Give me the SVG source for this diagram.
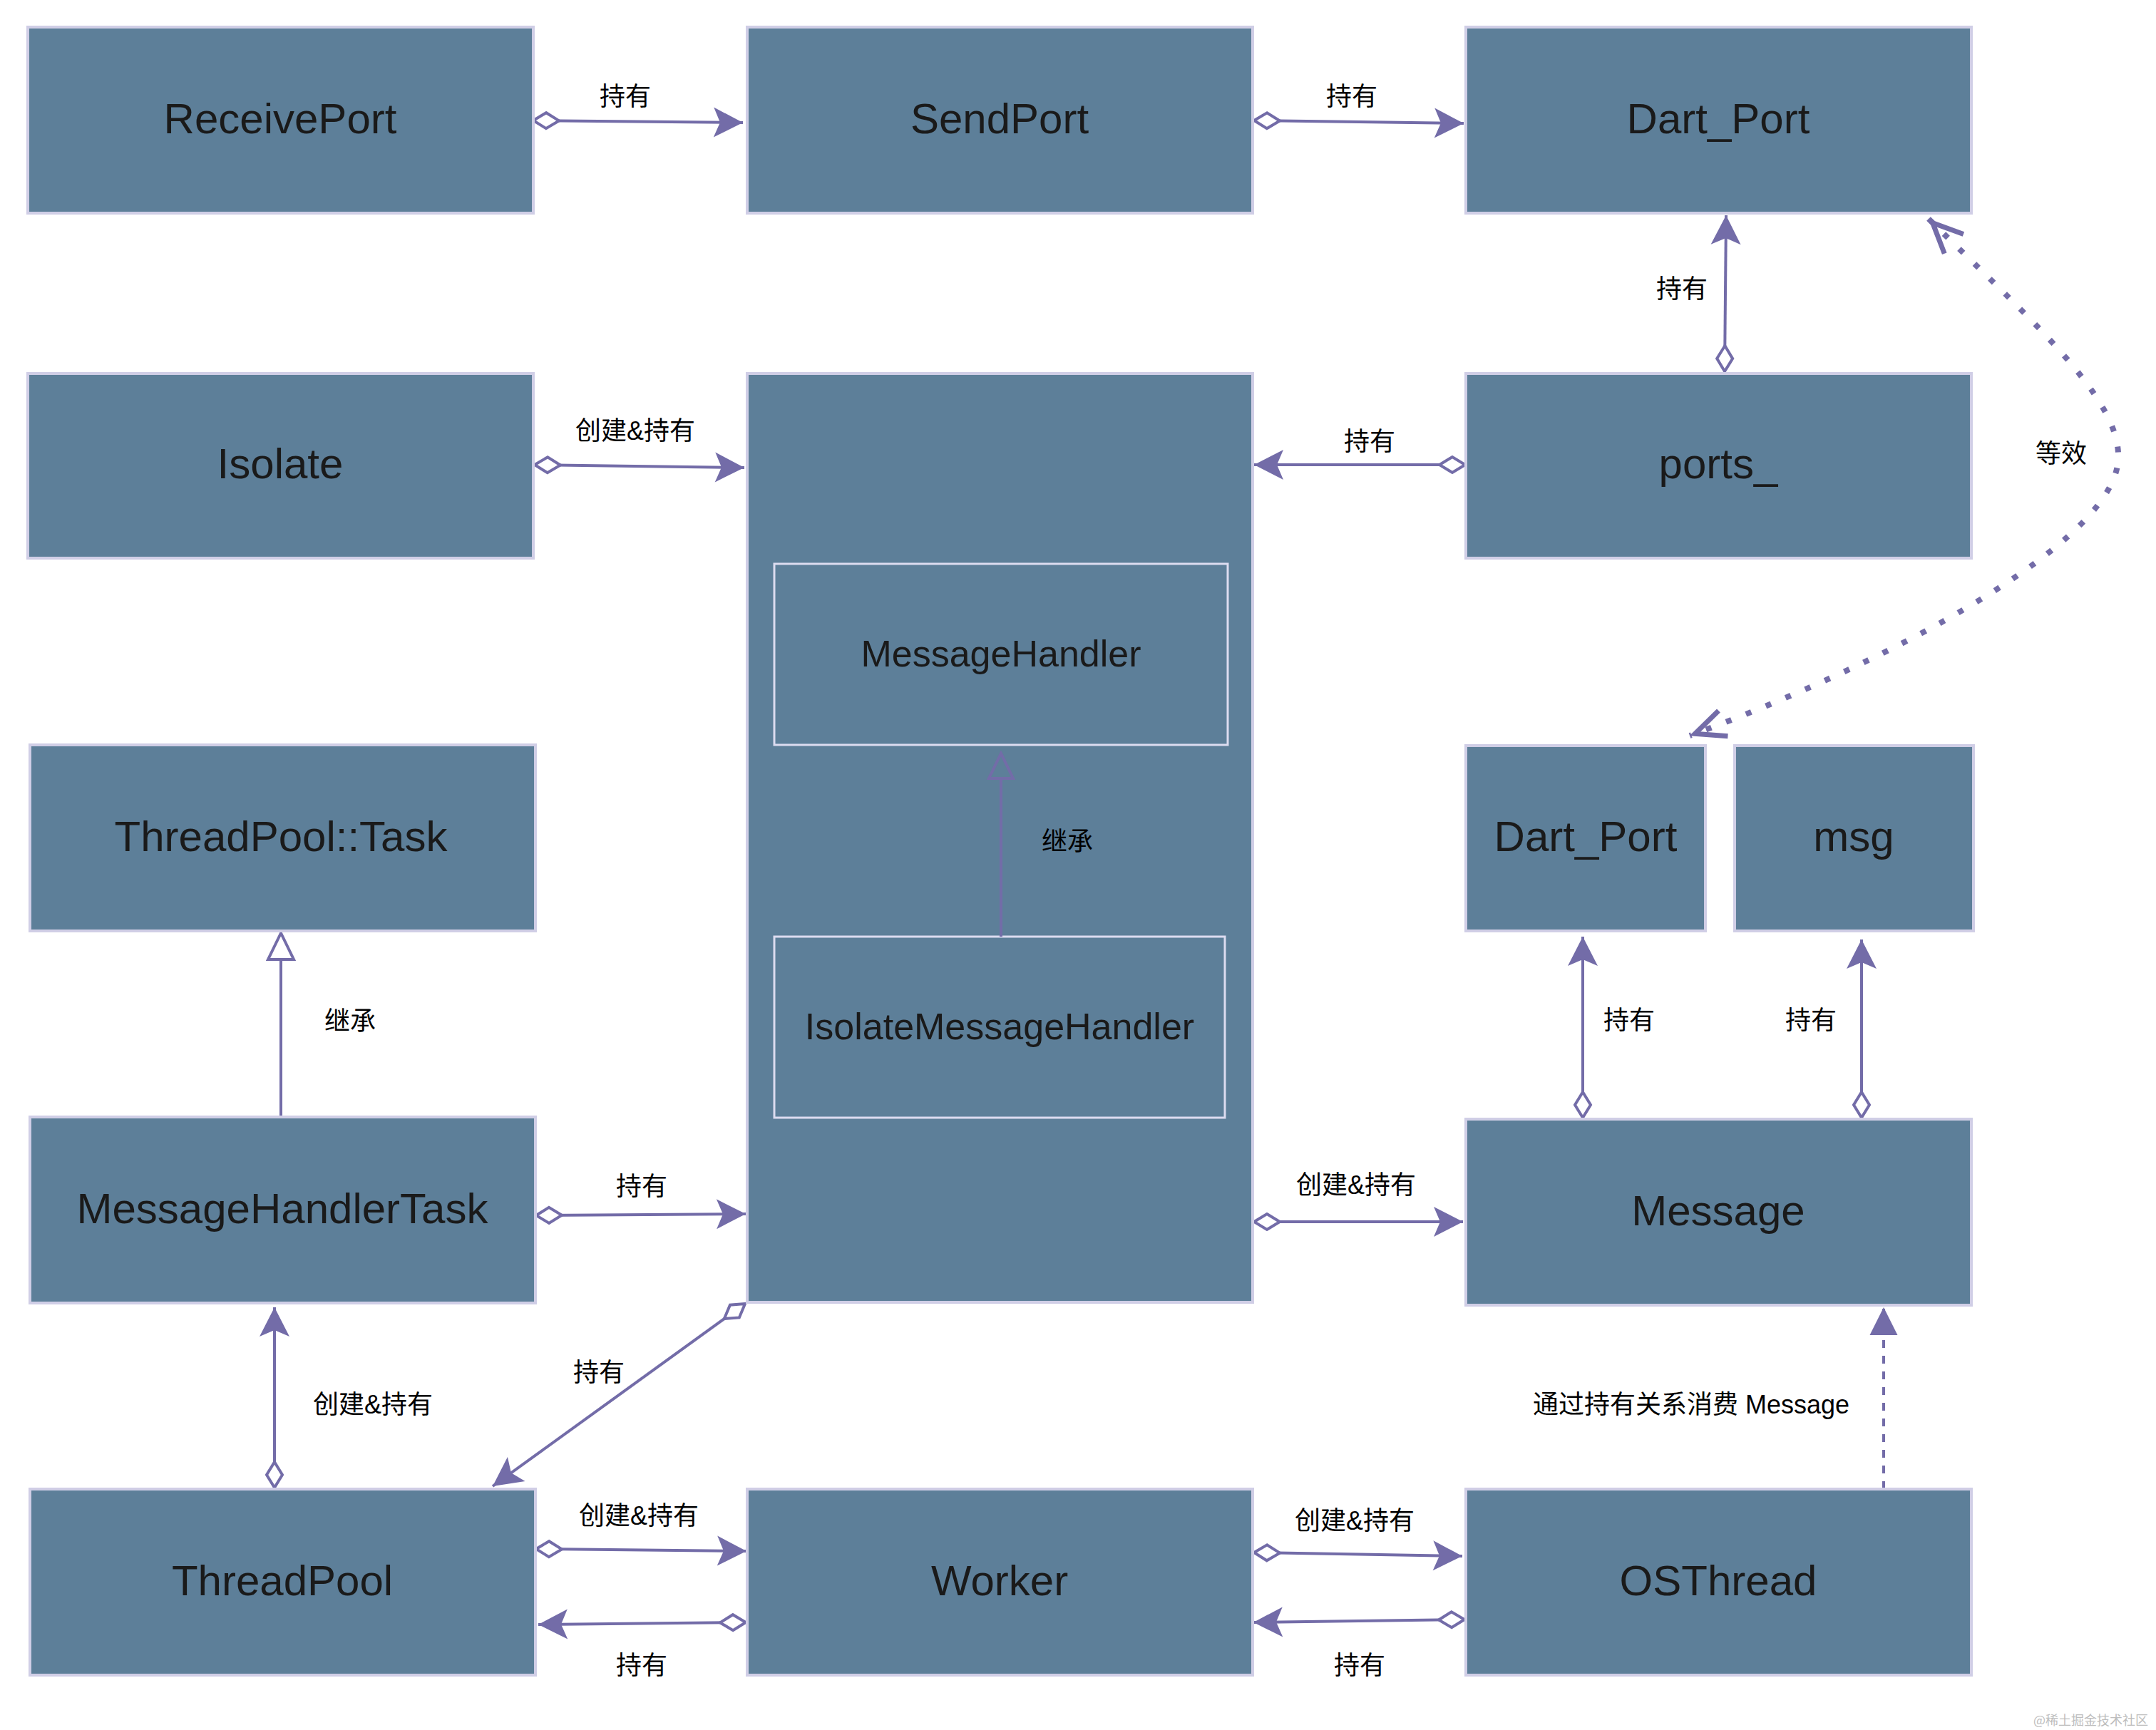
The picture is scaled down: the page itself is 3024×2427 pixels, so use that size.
<svg xmlns="http://www.w3.org/2000/svg" width="3024" height="2427" viewBox="0 0 3024 2427">
<style>
.node rect{fill:#5D7F99;stroke:#D0CEE6;stroke-width:4}
.inner rect{fill:#5D7F99;stroke:#DCDCF0;stroke-width:3}
.nt{font-family:"Liberation Sans",Arial,"Noto Sans CJK SC",sans-serif;font-size:60px;fill:#1A1A1A;text-anchor:middle;dominant-baseline:central}
.it{font-size:52px}
.lbl{font-family:"Liberation Sans","Noto Sans CJK SC",sans-serif;font-size:36px;fill:#000;text-anchor:middle;dominant-baseline:central}
.c{stroke:#736CA8;stroke-width:4;fill:none}
.dash{stroke-dasharray:11 11}
.dot{stroke-width:8;stroke-dasharray:8 22}
.tri{fill:none;stroke:#736CA8;stroke-width:4;stroke-linejoin:miter}
.wm{font-family:"Noto Sans CJK SC",sans-serif;font-size:18px;fill:#BDBDBD;text-anchor:end;dominant-baseline:central}
</style>
<defs>
<marker id="arr" viewBox="-46 -26 50 52" refX="0" refY="0" markerWidth="50" markerHeight="52" markerUnits="userSpaceOnUse" orient="auto"><path d="M0,0 L-41,-21 L-32,0 L-41,21 Z" fill="#736CA8"/></marker>
<marker id="blk" viewBox="-44 -24 48 48" refX="0" refY="0" markerWidth="48" markerHeight="48" markerUnits="userSpaceOnUse" orient="auto"><path d="M0,0 L-39,-19.5 L-39,19.5 Z" fill="#736CA8"/></marker>
<marker id="dia" viewBox="-6 -16 48 32" refX="0" refY="0" markerWidth="48" markerHeight="32" markerUnits="userSpaceOnUse" orient="auto"><path d="M0,0 L18,-11 L36,0 L18,11 Z" fill="#FFFFFF" stroke="#736CA8" stroke-width="4"/></marker>
<marker id="open" viewBox="-58 -28 64 56" refX="0" refY="0" markerWidth="64" markerHeight="56" markerUnits="userSpaceOnUse" orient="auto-start-reverse"><path d="M-50,-19 L-8,0 L-50,19" fill="none" stroke="#736CA8" stroke-width="7" stroke-dasharray="none"/></marker>
</defs>
<rect x="0" y="0" width="3024" height="2427" fill="#FFFFFF"/>

<g id="connectors">
<path class="c" d="M748,169 L1042,172" marker-start="url(#dia)" marker-end="url(#arr)"/>
<path class="c" d="M1759,169 L2053,173" marker-start="url(#dia)" marker-end="url(#arr)"/>
<path class="c" d="M2419,521 L2421,302" marker-start="url(#dia)" marker-end="url(#arr)"/>
<path class="c" d="M2055,652 L1759,652" marker-start="url(#dia)" marker-end="url(#arr)"/>
<path class="c" d="M750,652 L1044,656" marker-start="url(#dia)" marker-end="url(#arr)"/>
<path class="c dot" d="M2705,307 C2850,450 2975,560 2971,643 C2968,760 2650,930 2370,1032" marker-start="url(#open)" marker-end="url(#open)"/>
<path class="c" d="M752,1705 L1046,1703" marker-start="url(#dia)" marker-end="url(#arr)"/>
<path class="c" d="M1759,1714 L2052,1714" marker-start="url(#dia)" marker-end="url(#arr)"/>
<path class="c" d="M2220,1568 L2220,1314" marker-start="url(#dia)" marker-end="url(#arr)"/>
<path class="c" d="M2611,1568 L2611,1318" marker-start="url(#dia)" marker-end="url(#arr)"/>
<path class="c" d="M1045,1829 L691,2085" marker-start="url(#dia)" marker-end="url(#arr)"/>
<path class="c" d="M385,2087 L385,1834" marker-start="url(#dia)" marker-end="url(#arr)"/>
<path class="c" d="M752,2173 L1047,2176" marker-start="url(#dia)" marker-end="url(#arr)"/>
<path class="c" d="M1046,2276 L755,2279" marker-start="url(#dia)" marker-end="url(#arr)"/>
<path class="c" d="M1759,2178 L2051,2183" marker-start="url(#dia)" marker-end="url(#arr)"/>
<path class="c" d="M2054,2272 L1758,2276" marker-start="url(#dia)" marker-end="url(#arr)"/>
<path class="c dash" d="M2642,2089 L2642,1834" marker-end="url(#blk)"/>
<path class="c" d="M394,1568 L394,1346"/>
<polygon class="tri" points="394,1309 376,1346 412,1346"/>
</g>

<g id="n-receiveport" class="node"><rect x="39" y="38" width="709" height="261"/><text class="nt" x="393" y="166">ReceivePort</text></g>
<g id="n-sendport" class="node"><rect x="1048" y="38" width="709" height="261"/><text class="nt" x="1402" y="166">SendPort</text></g>
<g id="n-dartport" class="node"><rect x="2056" y="38" width="709" height="261"/><text class="nt" x="2410" y="166">Dart_Port</text></g>
<g id="n-isolate" class="node"><rect x="39" y="524" width="709" height="259"/><text class="nt" x="393" y="650">Isolate</text></g>
<g id="n-ports" class="node"><rect x="2056" y="524" width="709" height="259"/><text class="nt" x="2410" y="650">ports_</text></g>
<g id="n-isolatebox" class="node"><rect x="1048" y="524" width="709" height="1303"/></g>
<g id="n-messagehandler" class="inner"><rect x="1086" y="791" width="636" height="254"/><text class="nt it" x="1404" y="917">MessageHandler</text></g>
<g id="n-isolatemessagehandler" class="inner"><rect x="1086" y="1314" width="632" height="254"/><text class="nt it" x="1402" y="1440">IsolateMessageHandler</text></g>
<g id="inner-inherit">
<path class="c" d="M1404,1314 L1404,1092"/>
<polygon class="tri" points="1404,1057 1387,1092 1421,1092"/>
<text class="lbl" x="1497" y="1180">继承</text>
</g>
<g id="n-threadpooltask" class="node"><rect x="42" y="1045" width="709" height="261"/><text class="nt" x="394" y="1173">ThreadPool::Task</text></g>
<g id="n-dartport2" class="node"><rect x="2056" y="1046" width="336" height="260"/><text class="nt" x="2224" y="1173">Dart_Port</text></g>
<g id="n-msg" class="node"><rect x="2433" y="1046" width="335" height="260"/><text class="nt" x="2600" y="1173">msg</text></g>
<g id="n-messagehandlertask" class="node"><rect x="42" y="1567" width="709" height="261"/><text class="nt" x="396" y="1695">MessageHandlerTask</text></g>
<g id="n-message" class="node"><rect x="2056" y="1570" width="709" height="261"/><text class="nt" x="2410" y="1698">Message</text></g>
<g id="n-threadpool" class="node"><rect x="42" y="2089" width="709" height="261"/><text class="nt" x="396" y="2217">ThreadPool</text></g>
<g id="n-worker" class="node"><rect x="1048" y="2089" width="709" height="261"/><text class="nt" x="1402" y="2217">Worker</text></g>
<g id="n-osthread" class="node"><rect x="2056" y="2089" width="709" height="261"/><text class="nt" x="2410" y="2217">OSThread</text></g>

<g id="labels">
<text class="lbl" x="877" y="135">持有</text>
<text class="lbl" x="1896" y="135">持有</text>
<text class="lbl" x="2359" y="405">持有</text>
<text class="lbl" x="1921" y="619">持有</text>
<text class="lbl" x="891" y="604">创建&amp;持有</text>
<text class="lbl" x="2891" y="636">等效</text>
<text class="lbl" x="491" y="1432">继承</text>
<text class="lbl" x="900" y="1664">持有</text>
<text class="lbl" x="1902" y="1662">创建&amp;持有</text>
<text class="lbl" x="2285" y="1431">持有</text>
<text class="lbl" x="2540" y="1431">持有</text>
<text class="lbl" x="840" y="1925">持有</text>
<text class="lbl" x="523" y="1970">创建&amp;持有</text>
<text class="lbl" x="2372" y="1970">通过持有关系消费 Message</text>
<text class="lbl" x="896" y="2126">创建&amp;持有</text>
<text class="lbl" x="900" y="2336">持有</text>
<text class="lbl" x="1900" y="2133">创建&amp;持有</text>
<text class="lbl" x="1907" y="2336">持有</text>
</g>
<text class="wm" x="3013" y="2412">@稀土掘金技术社区</text>
</svg>
